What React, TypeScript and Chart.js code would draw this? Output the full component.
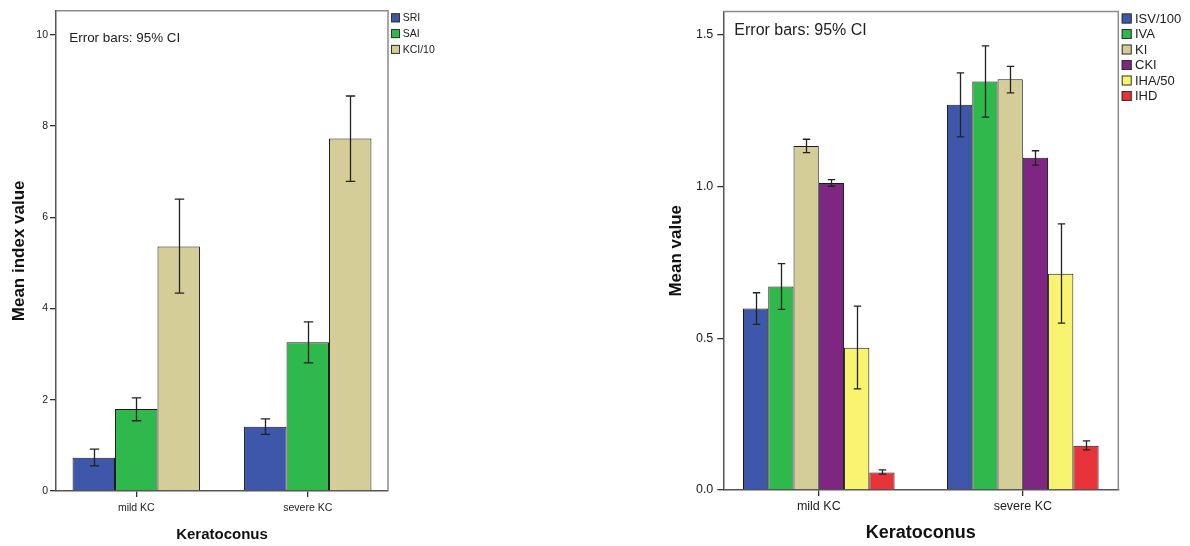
import React, { useEffect, useRef } from "react";
import { Chart, registerables } from "chart.js";

Chart.register(...registerables);

// ---------- data ----------
const categories = ["mild KC", "severe KC"];

// left chart
const leftSeries = ["SRI", "SAI", "KCI/10"];
const sriMean = [0.73, 1.41];
const sriLow = [0.55, 1.24];
const sriHigh = [0.92, 1.58];
const saiMean = [1.8, 3.26];
const saiLow = [1.54, 2.81];
const saiHigh = [2.04, 3.71];
const kciMean = [5.36, 7.73];
const kciLow = [4.34, 6.79];
const kciHigh = [6.4, 8.66];
const leftYTicks = [0, 2, 4, 6, 8, 10];

// right chart
const rightSeries = ["ISV/100", "IVA", "KI", "CKI", "IHA/50", "IHD"];
const isvMean = [0.598, 1.27];
const isvLow = [0.546, 1.164];
const isvHigh = [0.65, 1.375];
const ivaMean = [0.671, 1.346];
const ivaLow = [0.595, 1.229];
const ivaHigh = [0.746, 1.464];
const kiMean = [1.134, 1.354];
const kiLow = [1.112, 1.309];
const kiHigh = [1.156, 1.396];
const ckiMean = [1.012, 1.095];
const ckiLow = [1.001, 1.071];
const ckiHigh = [1.023, 1.118];
const ihaMean = [0.469, 0.713];
const ihaLow = [0.333, 0.55];
const ihaHigh = [0.606, 0.877];
const ihdMean = [0.058, 0.146];
const ihdLow = [0.052, 0.132];
const ihdHigh = [0.066, 0.162];
const rightYTicks = [0, 0.5, 1.0, 1.5];

const noteText = "Error bars: 95% CI";

// ---------- styles ----------
const FONT = "'Liberation Sans', Arial, Helvetica, sans-serif";
const leftColors = ["#3E57AA", "#2FB84B", "#D4CD98"];
const rightColors = ["#3E57AA", "#2FB84B", "#D4CD98", "#7E2782", "#F8F46F", "#E9333A"];

const decorPlugin = {
  id: "decor",
  beforeDatasetsDraw(chart: any) {
    const { ctx, chartArea } = chart;
    ctx.save();
    ctx.strokeStyle = "#8a8a8a";
    ctx.lineWidth = 1.5;
    ctx.beginPath();
    ctx.moveTo(chartArea.left, chartArea.top);
    ctx.lineTo(chartArea.right, chartArea.top);
    ctx.lineTo(chartArea.right, chartArea.bottom);
    ctx.stroke();
    ctx.restore();
  },
  afterDatasetsDraw(chart: any, _a: any, o: any) {
    const { ctx } = chart;
    const yScale = chart.scales.y;
    ctx.save();
    ctx.strokeStyle = "#222";
    ctx.lineWidth = 1.3;
    chart.data.datasets.forEach((_ds: any, i: number) => {
      const meta = chart.getDatasetMeta(i);
      meta.data.forEach((el: any, j: number) => {
        const x = Math.round(el.x) + 0.5;
        const yh = yScale.getPixelForValue(o.high[i][j]);
        const yl = yScale.getPixelForValue(o.low[i][j]);
        ctx.beginPath();
        ctx.moveTo(x, yh);
        ctx.lineTo(x, yl);
        ctx.moveTo(x - o.cap, yh);
        ctx.lineTo(x + o.cap, yh);
        ctx.moveTo(x - o.cap, yl);
        ctx.lineTo(x + o.cap, yl);
        ctx.stroke();
      });
    });
    ctx.restore();
  },
  afterDraw(chart: any, _a: any, o: any) {
    const { ctx, chartArea } = chart;
    ctx.save();
    ctx.fillStyle = "#222";
    ctx.font = `${o.noteSize}px ${FONT}`;
    ctx.textBaseline = "middle";
    ctx.textAlign = "left";
    ctx.fillText(noteText, chartArea.left + o.noteDx, o.noteY);
    ctx.font = `${o.legSize}px ${FONT}`;
    chart.data.datasets.forEach((ds: any, i: number) => {
      const bx = chartArea.right + o.legDx;
      const by = chartArea.top + o.legDy + i * o.legStep;
      ctx.fillStyle = ds.backgroundColor;
      ctx.fillRect(bx, by, o.box, o.box);
      ctx.strokeStyle = "#333";
      ctx.lineWidth = 1;
      ctx.strokeRect(bx + 0.5, by + 0.5, o.box - 1, o.box - 1);
      ctx.fillStyle = "#222";
      ctx.fillText(ds.label, bx + o.box + o.legGap, by + o.box / 2 + 0.5);
    });
    ctx.restore();
  },
};

function buildConfig(spec: any) {
  const datasets = spec.series.map((name: string, i: number) => ({
    label: name,
    data: categories.map((_c, j) => ({ x: j, y: spec.means[i][j] })),
    backgroundColor: spec.colors[i],
    borderColor: "#1a1a1a",
    borderWidth: 1,
    categoryPercentage: 0.743,
    barPercentage: 1,
  }));
  return {
    type: "bar",
    data: { datasets },
    plugins: [decorPlugin],
    options: {
      animation: false,
      responsive: false,
      devicePixelRatio: 1,
      events: [],
      layout: { padding: { top: spec.padTop, right: spec.padRight, left: 0, bottom: 0 } },
      plugins: {
        legend: { display: false },
        tooltip: { enabled: false },
        decor: {
          low: spec.lows,
          high: spec.highs,
          cap: spec.cap,
          noteSize: spec.noteSize,
          noteDx: spec.noteDx,
          noteY: spec.noteY,
          legSize: spec.legSize,
          legDx: spec.legDx,
          legDy: spec.legDy,
          legStep: spec.legStep,
          legGap: spec.legGap,
          box: spec.box,
        },
      },
      scales: {
        x: {
          type: "linear",
          offset: false,
          min: -0.468,
          max: 1.468,
          afterBuildTicks: (s: any) => {
            s.ticks = categories.map((_c, i) => ({ value: i }));
          },
          afterFit: (s: any) => {
            s.height = spec.xHeight;
          },
          grid: {
            display: true,
            offset: false,
            drawOnChartArea: false,
            drawTicks: true,
            tickLength: 6,
            color: "#333",
            lineWidth: 1.3,
          },
          border: { display: true, color: "#555", width: 1.5 },
          ticks: {
            color: "#222",
            padding: spec.xTickPad,
            font: { family: FONT, size: spec.tickSize },
            callback: (v: number) => categories[v] ?? "",
            maxRotation: 0,
            autoSkip: false,
          },
          title: {
            display: true,
            text: "Keratoconus",
            color: "#111",
            font: { family: FONT, size: spec.xTitleSize, weight: "bold" },
            padding: { top: 0, bottom: spec.xTitlePad },
          },
        },
        y: {
          type: "linear",
          min: 0,
          max: spec.yMax,
          afterBuildTicks: (s: any) => {
            s.ticks = spec.yTicks.map((v: number) => ({ value: v }));
          },
          afterFit: (s: any) => {
            s.width = spec.yWidth;
          },
          grid: {
            display: true,
            drawOnChartArea: false,
            drawTicks: true,
            tickLength: 6,
            color: "#333",
            lineWidth: 1.3,
          },
          border: { display: true, color: "#555", width: 1.5 },
          ticks: {
            color: "#222",
            padding: spec.yTickPad,
            font: { family: FONT, size: spec.tickSize },
            callback: (v: number) => spec.yFmt(v),
          },
          title: {
            display: true,
            text: spec.yTitle,
            color: "#111",
            font: { family: FONT, size: spec.yTitleSize, weight: "bold" },
            padding: { top: spec.yTitlePad, bottom: 0 },
          },
        },
      },
    },
  };
}

const leftSpec = {
  series: leftSeries,
  means: [sriMean, saiMean, kciMean],
  lows: [sriLow, saiLow, kciLow],
  highs: [sriHigh, saiHigh, kciHigh],
  colors: leftColors,
  yTicks: leftYTicks,
  yMax: 10.53,
  yFmt: (v: number) => String(v),
  yTitle: "Mean index value",
  padTop: 10.7,
  padRight: 72,
  yWidth: 56,
  xHeight: 55,
  tickSize: 10.5,
  xTickPad: 4.7,
  yTickPad: 2,
  xTitleSize: 15,
  xTitlePad: 2,
  yTitleSize: 17,
  yTitlePad: 8.8,
  cap: 4.7,
  noteSize: 13.4,
  noteDx: 13.3,
  noteY: 38.4,
  legSize: 10.5,
  legDx: 3,
  legDy: 2.6,
  legStep: 15.8,
  legGap: 2.7,
  box: 9,
};

const rightSpec = {
  series: rightSeries,
  means: [isvMean, ivaMean, kiMean, ckiMean, ihaMean, ihdMean],
  lows: [isvLow, ivaLow, kiLow, ckiLow, ihaLow, ihdLow],
  highs: [isvHigh, ivaHigh, kiHigh, ckiHigh, ihaHigh, ihdHigh],
  colors: rightColors,
  yTicks: rightYTicks,
  yMax: 1.577,
  yFmt: (v: number) => v.toFixed(1),
  yTitle: "Mean value",
  padTop: 10.7,
  padRight: 71.7,
  yWidth: 83.3,
  xHeight: 56,
  tickSize: 12.5,
  xTickPad: 3.2,
  yTickPad: 4,
  xTitleSize: 18,
  xTitlePad: 2.2,
  yTitleSize: 17,
  yTitlePad: 25.8,
  cap: 3.7,
  noteSize: 16,
  noteDx: 11,
  noteY: 30.3,
  legSize: 13,
  legDx: 3.4,
  legDy: 2,
  legStep: 15.5,
  legGap: 3.3,
  box: 10,
};

function BarChart({ spec, left, width }: { spec: any; left: number; width: number }) {
  const ref = useRef<HTMLCanvasElement | null>(null);
  useEffect(() => {
    if (!ref.current) return;
    const chart = new Chart(ref.current, buildConfig(spec) as any);
    return () => chart.destroy();
  }, [spec]);
  return (
    <canvas
      ref={ref}
      width={width}
      height={546}
      style={{ position: "absolute", left, top: 0, width, height: 546 }}
    />
  );
}

export default function App() {
  return (
    <div
      style={{
        position: "absolute",
        left: 0,
        top: 0,
        width: 1190,
        height: 546,
        background: "#ffffff",
        overflow: "hidden",
      }}
    >
      <BarChart spec={leftSpec} left={0} width={460} />
      <BarChart spec={rightSpec} left={640} width={550} />
    </div>
  );
}
